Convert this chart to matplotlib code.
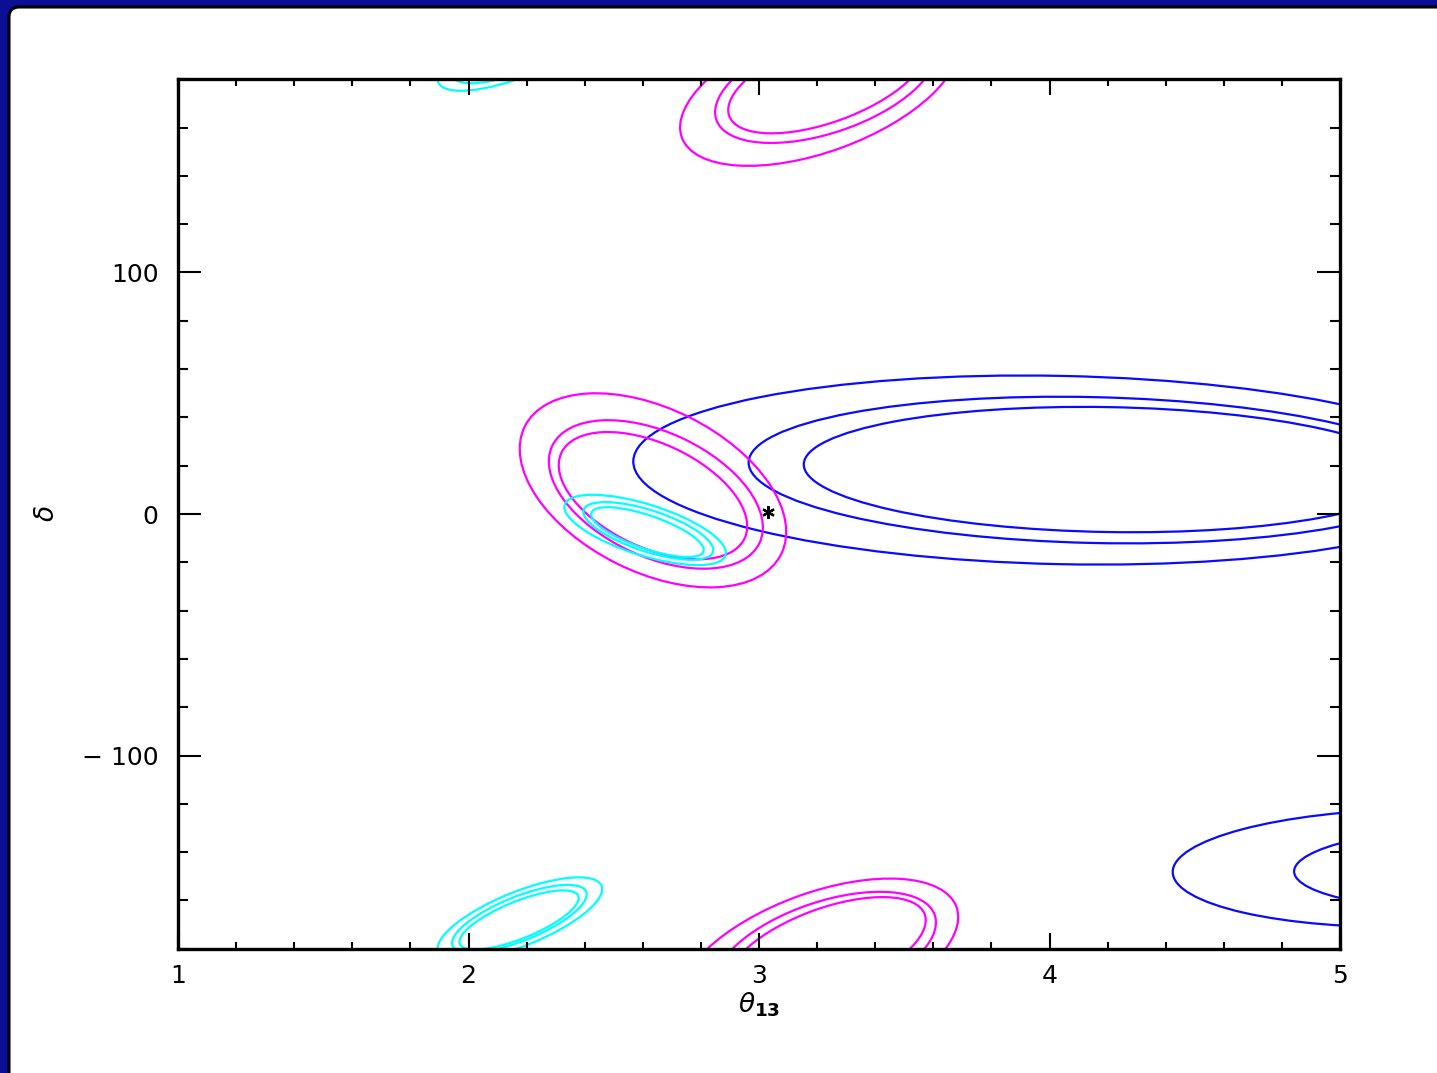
import numpy as np
import matplotlib
matplotlib.use("Agg")
import matplotlib.pyplot as plt
from matplotlib.patches import Ellipse, FancyBboxPatch
from matplotlib.transforms import Affine2D, IdentityTransform

# contour ellipses: centre (theta, delta), semi-axes in theta units, tilt (deg)
blue_theta = [4.04, 4.15, 4.20, 5.25, 5.53]
blue_delta = [18.2, 18.2, 18.4, -146.6, -146.6]
blue_a = [1.473, 1.186, 1.046, 0.826, 0.688]
blue_b = [0.324, 0.251, 0.215, 0.203, 0.148]
blue_ang = [-1.2, -1.3, -1.0, 1.0, 1.0]

mag_theta = [2.635, 2.645, 2.635, 3.207, 3.229, 3.234]
mag_delta = [9.8, 8.1, 7.6, -183.4, -181.4, -180.5]
mag_a = [0.493, 0.394, 0.348, 0.503, 0.397, 0.358]
mag_b = [0.281, 0.214, 0.179, 0.221, 0.173, 0.143]
mag_ang = [-26.5, -25.0, -25.0, 20.0, 18.7, 20.0]

cyan_theta = [2.608, 2.619, 2.616, 2.177, 2.175, 2.174]
cyan_delta = [-6.6, -7.0, -7.5, -167.6, -167.6, -168.1]
cyan_a = [0.290, 0.234, 0.204, 0.303, 0.248, 0.220]
cyan_b = [0.088, 0.071, 0.057, 0.093, 0.076, 0.064]
cyan_ang = [-17.5, -18.1, -19.1, 22.0, 22.0, 22.1]

true_point = (3.03, 1.0)

W, H = 1437, 1073
fig = plt.figure(figsize=(W / 100, H / 100), dpi=100)
fig.patch.set_facecolor('#0a0f96')

# white slide panel with black rim
panel = FancyBboxPatch((9, -40), W + 60, H - 7 + 40,
                       boxstyle='round,pad=0,rounding_size=10',
                       transform=IdentityTransform(), facecolor='white',
                       edgecolor='black', linewidth=2.2, zorder=-10)
fig.add_artist(panel)

ax = fig.add_axes([178 / W, 1 - 948.7 / H, (1340 - 178) / W, (948.7 - 79.3) / H])
ax.set_xlim(1, 5)
ax.set_ylim(-180, 180)
ax.patch.set_alpha(0)

# isotropic frame: delta/K has same display scale as theta
pos = ax.get_position()
K = (pos.width * W / 4.0) / (pos.height * H / 360.0)
tr = Affine2D().scale(1, K) + ax.transData

def draw_group(th, de, aa, bb, ang, col):
    for t, d, a, b, g in zip(th, de, aa, bb, ang):
        for shift in (-360, 0, 360):  # delta is periodic
            e = Ellipse((t, (d + shift) / K), 2 * a, 2 * b, angle=g,
                        transform=tr, fill=False, edgecolor=col, linewidth=1.6)
            ax.add_patch(e)

draw_group(blue_theta, blue_delta, blue_a, blue_b, blue_ang, '#0a0aff')
draw_group(mag_theta, mag_delta, mag_a, mag_b, mag_ang, '#ff00ff')
draw_group(cyan_theta, cyan_delta, cyan_a, cyan_b, cyan_ang, '#00ffff')

ax.plot([true_point[0]], [true_point[1]], marker=(6, 2, 0), color='black',
        markersize=9, markeredgewidth=1.6, linestyle='none')

for s in ax.spines.values():
    s.set_linewidth(2.4)

ax.set_xticks([1, 2, 3, 4, 5])
ax.set_xticks(np.arange(1, 5.01, 0.2), minor=True)
ax.set_yticks([-100, 0, 100])
ax.set_yticklabels(['\u2212 100', '0', '100'])
ax.set_yticks(np.arange(-180, 181, 20), minor=True)
ax.tick_params(axis='both', which='both', direction='in', top=True, right=True,
               width=1.5, labelsize=18, colors='black')
ax.tick_params(axis='x', which='major', length=11.5, pad=11)
ax.tick_params(axis='x', which='minor', length=5)
ax.tick_params(axis='y', which='major', length=16.5, pad=14)
ax.tick_params(axis='y', which='minor', length=7.5)

ax.set_xlabel(r'$\theta_{\mathbf{13}}$', fontsize=19, labelpad=2)
ax.set_ylabel(r'$\delta$', fontsize=19, labelpad=16)

fig.savefig('out.png', dpi=100, facecolor=fig.get_facecolor())
